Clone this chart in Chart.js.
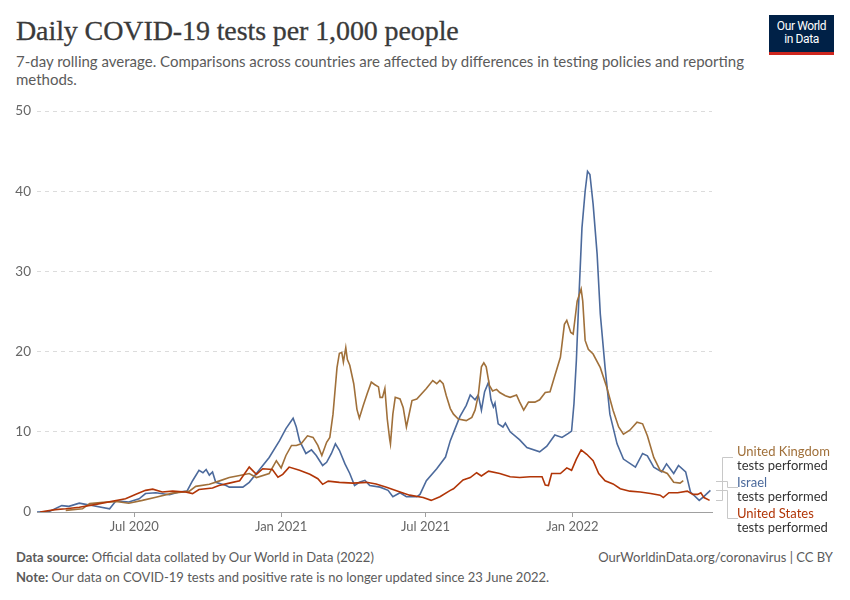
<!DOCTYPE html>
<html><head><meta charset="utf-8">
<script src="https://cdn.jsdelivr.net/npm/chart.js@4.4.1/dist/chart.umd.min.js"></script>
<style>
body{margin:0;width:850px;height:600px;background:#fff;font-family:Lato,"Noto Sans",sans-serif;position:relative;overflow:hidden}
.abs{position:absolute;white-space:nowrap}
#title{left:16px;top:16px;font-family:"Liberation Serif",serif;font-size:28px;line-height:30px;color:#3a3a3a;letter-spacing:-0.1px;-webkit-text-stroke:0.3px #3a3a3a}
#sub{left:16px;top:52px;font-size:15px;line-height:18px;color:#5b5b5b}
#logo{left:769px;top:15px;width:65px;height:32px;background:#002147;border-bottom:3px solid #ce261e;color:#fff;font-size:12px;line-height:13px;text-align:center;padding-top:5px;box-sizing:content-box;letter-spacing:-0.4px;font-family:"Roboto",sans-serif}
#chartbox{position:absolute;left:0;top:97px;width:850px;height:443px}
.foot{font-size:13px;line-height:16px;color:#5b5b5b}
.lg{left:737px;font-size:13px;line-height:14px}
</style></head>
<body>
<div id="title" class="abs">Daily COVID-19 tests per 1,000 people</div>
<div id="sub" class="abs">7-day rolling average. Comparisons across countries are affected by differences in testing policies and reporting<br>methods.</div>
<div id="logo" class="abs">Our World<br>in Data</div>
<div id="chartbox"><canvas id="c" width="850" height="443"></canvas></div>
<div class="abs lg" style="top:444px;color:#a0703a">United Kingdom</div>
<div class="abs lg" style="top:458px;color:#333">tests performed</div>
<div class="abs lg" style="top:475px;color:#4c6a9c">Israel</div>
<div class="abs lg" style="top:489px;color:#333">tests performed</div>
<div class="abs lg" style="top:506px;color:#b13507">United States</div>
<div class="abs lg" style="top:520px;color:#333">tests performed</div>
<div class="abs foot" style="left:16px;top:549px"><b>Data source:</b> Official data collated by Our World in Data (2022)</div>
<div class="abs foot" style="right:17px;top:549px">OurWorldinData.org/coronavirus | CC BY</div>
<div class="abs foot" style="left:16px;top:569px"><b>Note:</b> Our data on COVID-19 tests and positive rate is no longer updated since 23 June 2022.</div>
<script>
// ---------- DATA ----------
const startDate = '2020-03-01';
const endDate = '2022-06-25';
const xTickDates = ['2020-07-01','2021-01-01','2021-07-01','2022-01-01'];
const xTickLabels = ['Jul 2020','Jan 2021','Jul 2021','Jan 2022'];
const yTickValues = [0,10,20,30,40,50];
const seriesNames = ['United Kingdom','Israel','United States'];

const ukDates = ['2020-04-06','2020-04-27','2020-05-06','2020-05-23','2020-06-08','2020-06-24','2020-07-11','2020-07-28','2020-08-18','2020-09-08','2020-09-16','2020-10-03','2020-10-15','2020-10-28','2020-11-10','2020-11-22','2020-12-01','2020-12-17','2020-12-26','2021-01-01','2021-01-07','2021-01-14','2021-01-20','2021-01-26','2021-02-03','2021-02-10','2021-02-16','2021-02-21','2021-02-27','2021-03-03','2021-03-07','2021-03-12','2021-03-15','2021-03-18','2021-03-20','2021-03-23','2021-03-25','2021-03-28','2021-04-02','2021-04-06','2021-04-09','2021-04-14','2021-04-19','2021-04-24','2021-04-28','2021-05-03','2021-05-05','2021-05-08','2021-05-11','2021-05-14','2021-05-17','2021-05-18','2021-05-21','2021-05-24','2021-05-30','2021-06-03','2021-06-07','2021-06-10','2021-06-14','2021-06-20','2021-07-02','2021-07-10','2021-07-15','2021-07-19','2021-07-23','2021-07-27','2021-08-01','2021-08-05','2021-08-11','2021-08-21','2021-08-28','2021-09-01','2021-09-05','2021-09-09','2021-09-12','2021-09-15','2021-09-19','2021-09-23','2021-09-28','2021-10-02','2021-10-09','2021-10-15','2021-10-23','2021-10-27','2021-11-01','2021-11-07','2021-11-15','2021-11-21','2021-11-28','2021-12-04','2021-12-10','2021-12-17','2021-12-22','2021-12-25','2021-12-30','2022-01-02','2022-01-07','2022-01-12','2022-01-14','2022-01-17','2022-01-21','2022-01-27','2022-02-05','2022-02-13','2022-02-21','2022-02-28','2022-03-06','2022-03-14','2022-03-23','2022-03-30','2022-04-05','2022-04-13','2022-04-21','2022-04-30','2022-05-08','2022-05-16','2022-05-20'];
const ukTests = [0.2,0.4,1.05,1.2,1.3,1.1,1.45,1.85,2.35,2.6,3.2,3.45,3.85,4.3,4.55,4.8,4.3,4.8,6.4,5.5,7.05,8.3,8.3,8.5,9.5,9.3,8.3,7.05,8.7,9.3,12.2,18,19.8,19.9,18.7,20.5,19.0,18.3,16,12.8,11.7,13.3,14.8,16.2,15.9,15.6,14.3,14.3,15.4,11.6,9.1,8.5,12.2,14.3,14.1,13.0,10.6,12.0,13.9,14.1,15.4,16.4,16.0,16.4,16.0,14.5,12.9,12.2,11.6,11.4,11.8,12.7,14.5,18.1,18.6,18.1,15.8,15.1,15.3,14.9,14.5,14.3,14.6,13.7,12.7,13.7,13.7,14.0,14.9,15.0,17.0,19.3,23.4,23.9,22.4,22.2,26.3,27.8,26.3,21.4,20.3,19.7,18,15.6,12.7,10.6,9.7,10.2,11.2,11.0,9.5,6.8,5.2,4.8,3.7,3.6,3.9];

const israelDates = ['2020-03-01','2020-03-16','2020-04-01','2020-04-10','2020-04-23','2020-05-01','2020-05-09','2020-05-31','2020-06-08','2020-06-24','2020-07-07','2020-07-15','2020-07-28','2020-08-14','2020-08-26','2020-09-05','2020-09-12','2020-09-20','2020-09-25','2020-09-29','2020-10-03','2020-10-07','2020-10-11','2020-10-24','2020-10-28','2020-11-14','2020-11-22','2020-12-05','2020-12-17','2020-12-30','2021-01-07','2021-01-16','2021-01-20','2021-01-24','2021-02-01','2021-02-08','2021-02-14','2021-02-22','2021-02-27','2021-03-05','2021-03-10','2021-03-15','2021-03-22','2021-03-28','2021-04-03','2021-04-09','2021-04-16','2021-04-22','2021-05-05','2021-05-15','2021-05-21','2021-05-30','2021-06-07','2021-06-20','2021-06-24','2021-07-02','2021-07-15','2021-07-26','2021-08-01','2021-08-07','2021-08-13','2021-08-21','2021-08-26','2021-09-01','2021-09-05','2021-09-09','2021-09-13','2021-09-18','2021-09-21','2021-09-24','2021-09-26','2021-09-30','2021-10-06','2021-10-09','2021-10-15','2021-10-27','2021-11-05','2021-11-21','2021-11-30','2021-12-10','2021-12-19','2021-12-27','2021-12-31','2022-01-03','2022-01-06','2022-01-09','2022-01-13','2022-01-17','2022-01-20','2022-01-23','2022-01-27','2022-02-01','2022-02-05','2022-02-11','2022-02-17','2022-02-26','2022-03-06','2022-03-21','2022-03-30','2022-04-05','2022-04-13','2022-04-23','2022-04-29','2022-05-08','2022-05-14','2022-05-23','2022-05-29','2022-06-09','2022-06-15','2022-06-23'];
const israelTests = [0,0.05,0.8,0.7,1.1,0.95,0.8,0.4,1.4,1.25,1.65,2.3,2.4,2.15,2.5,2.6,3.9,5.2,4.9,5.3,4.6,5.0,3.7,3.3,3.1,3.1,3.7,5.3,6.8,8.9,10.4,11.7,10.6,8.9,7.3,7.75,7.05,5.8,6.2,7.3,8.5,7.7,6.0,4.8,3.3,3.7,3.95,3.3,3.1,2.7,1.9,2.4,1.9,1.9,2.2,3.9,5.4,6.85,8.9,10.4,11.9,13.3,14.6,14.0,14.6,12.7,15.0,16.2,14.0,13.1,13.6,11.0,10.6,11.1,10.0,9.0,8.05,7.5,8.2,9.6,9.3,9.8,10.1,13.5,18.9,26.3,35.4,40,42.5,42.1,38.4,32.2,24.7,18,12.2,8.5,6.6,5.6,7.3,7.0,5.6,5.0,6.0,4.8,5.8,5.0,2.5,1.45,1.95,2.7];

const usDates = ['2020-03-05','2020-03-24','2020-04-06','2020-04-23','2020-05-14','2020-06-03','2020-06-20','2020-07-03','2020-07-15','2020-07-24','2020-08-05','2020-08-18','2020-09-03','2020-09-12','2020-09-20','2020-10-07','2020-10-15','2020-10-28','2020-11-10','2020-11-22','2020-12-01','2020-12-09','2020-12-21','2020-12-28','2021-01-03','2021-01-11','2021-01-24','2021-02-06','2021-02-16','2021-02-22','2021-03-01','2021-03-15','2021-04-01','2021-04-18','2021-04-30','2021-05-13','2021-05-30','2021-06-11','2021-06-28','2021-07-08','2021-07-19','2021-08-01','2021-08-05','2021-08-17','2021-08-26','2021-09-03','2021-09-09','2021-09-18','2021-10-02','2021-10-15','2021-10-27','2021-11-09','2021-11-24','2021-11-28','2021-12-02','2021-12-06','2021-12-17','2021-12-25','2021-12-31','2022-01-06','2022-01-12','2022-01-19','2022-01-27','2022-02-03','2022-02-11','2022-02-21','2022-03-02','2022-03-14','2022-03-27','2022-04-09','2022-04-21','2022-04-25','2022-05-02','2022-05-13','2022-05-25','2022-06-01','2022-06-07','2022-06-11','2022-06-15','2022-06-22'];
const usTests = [0,0.3,0.4,0.6,0.95,1.35,1.65,2.2,2.7,2.85,2.5,2.6,2.5,2.3,2.8,3.0,3.3,3.6,3.9,5.6,4.7,5.4,5.3,4.35,4.7,5.6,5.2,4.7,4.15,3.45,3.85,3.7,3.6,3.7,3.5,3.1,2.5,2.1,1.8,1.45,1.9,2.7,2.9,4.0,4.3,4.9,4.5,5.1,4.8,4.4,4.3,4.4,4.4,3.35,3.3,4.8,4.8,5.5,5.2,6.6,7.75,7.2,6.4,4.8,3.9,3.5,2.9,2.6,2.5,2.3,2.1,1.8,2.4,2.4,2.6,2.2,2.2,2.4,1.8,1.45];

// ---------- helpers ----------
const DAY = 86400000;
function dayIndex(s){ const [y,m,d] = s.split('-').map(Number); const [y0,m0,d0] = startDate.split('-').map(Number); return Math.round((Date.UTC(y,m-1,d)-Date.UTC(y0,m0-1,d0))/DAY); }
function pts(dates, vals){ return dates.map((d,i)=>({x: dayIndex(d), y: vals[i]})); }
const xTickDays = xTickDates.map(dayIndex);

const colors = ['#a0703a','#4c6a9c','#b13507'];
// page y of each label's connector target, bracket mid x
const connectorTargets = [{y:457, mid:722},{y:487, mid:727},{y:518, mid:727}];
const CANVAS_TOP = 97;

const connectorPlugin = {
  id:'connectors',
  afterDatasetsDraw(chart){
    const ctx = chart.ctx, area = chart.chartArea;
    ctx.save();
    ctx.strokeStyle = '#c8c8c8'; ctx.lineWidth = 1;
    chart.data.datasets.forEach((ds, i) => {
      const meta = chart.getDatasetMeta(i);
      const last = meta.data[meta.data.length-1];
      const t = connectorTargets[i];
      const ty = t.y - CANVAS_TOP;
      ctx.beginPath();
      ctx.moveTo(area.right + 4, Math.round(last.y)+0.5);
      ctx.lineTo(t.mid + 0.5, Math.round(last.y)+0.5);
      ctx.lineTo(t.mid + 0.5, ty + 0.5);
      ctx.lineTo(t.mid + 11, ty + 0.5);
      ctx.stroke();
    });
    ctx.restore();
  }
};

const mk = (name, data, color) => ({label:name, data, borderColor: color, backgroundColor: color, borderWidth: 1.6, pointRadius: 0, tension: 0, fill:false});

new Chart(document.getElementById('c'), {
  type:'line',
  data:{ datasets:[
    mk(seriesNames[2], pts(usDates, usTests), colors[2]),
    mk(seriesNames[0], pts(ukDates, ukTests), colors[0]),
    mk(seriesNames[1], pts(israelDates, israelTests), colors[1])
  ]},
  options:{
    responsive:false, animation:false,
    layout:{padding:{top:7,right:138,bottom:0,left:0}},
    plugins:{legend:{display:false}, tooltip:{enabled:false}},
    scales:{
      x:{type:'linear', min:0, max:dayIndex(endDate),
        afterFit(s){ s.height = 28; },
        afterBuildTicks(s){ s.ticks = xTickDays.map(v=>({value:v})); },
        border:{display:true, color:'#a0a0a0', width:1},
        grid:{display:true, drawOnChartArea:false, drawTicks:true, tickLength:5, color:'#a0a0a0'},
        ticks:{color:'#666', font:{family:'Lato', size:13}, padding:2, maxRotation:0, autoSkip:false,
          callback(v){ const k = xTickDays.indexOf(v); return k>=0 ? xTickLabels[k] : ''; }}
      },
      y:{min:0, max:50,
        afterFit(s){ s.width = 37; },
        afterBuildTicks(s){ s.ticks = yTickValues.map(v=>({value:v})); },
        border:{display:false, dash:[4,4]},
        grid:{drawTicks:false, color:(c)=> (c.tick && c.tick.value===0) ? 'rgba(0,0,0,0)' : '#dcdcdc'},
        ticks:{color:'#666', font:{family:'Lato', size:13.5}, padding:6}
      }
    }
  },
  plugins:[connectorPlugin]
});
</script>
</body></html>
